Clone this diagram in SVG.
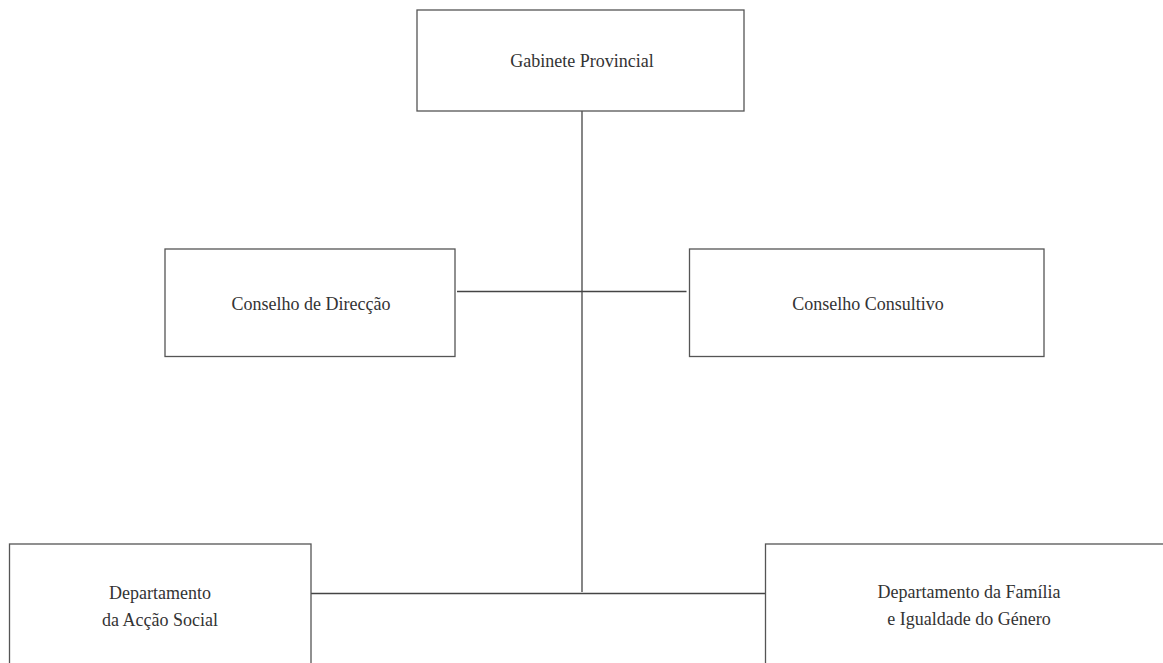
<svg xmlns="http://www.w3.org/2000/svg" width="1163" height="663" viewBox="0 0 1163 663">
<style>
.box{fill:#fff;stroke:#555;stroke-width:1.3}
.ln{stroke:#444;stroke-width:1.3;fill:none}
.t{font-family:'Liberation Serif','DejaVu Serif',serif;font-size:18px;fill:#333;text-anchor:middle}
</style>
<rect width="1163" height="663" fill="#fff"/>
<g id="connectors">
<line class="ln" x1="582" y1="111" x2="582" y2="592"/>
<line class="ln" x1="457" y1="291.5" x2="686.5" y2="291.5"/>
<line class="ln" x1="311" y1="593.5" x2="765" y2="593.5"/>
</g>
<g id="gabinete">
<rect class="box" x="417" y="10" width="327" height="101"/>
<text class="t" x="582" y="67">Gabinete Provincial</text>
</g>
<g id="direccao">
<rect class="box" x="165" y="249" width="290" height="107.5"/>
<text class="t" x="311" y="310">Conselho de Direcção</text>
</g>
<g id="consultivo">
<rect class="box" x="689.5" y="249" width="354.5" height="107.5"/>
<text class="t" x="868" y="310">Conselho Consultivo</text>
</g>
<g id="accao-social">
<rect class="box" x="9.5" y="544" width="301.5" height="140"/>
<text class="t" x="160" y="599">Departamento</text>
<text class="t" x="160" y="626">da Acção Social</text>
</g>
<g id="familia">
<rect class="box" x="765.5" y="544" width="408" height="140"/>
<text class="t" x="969" y="598">Departamento da Família</text>
<text class="t" x="969" y="625">e Igualdade do Género</text>
</g>
</svg>
